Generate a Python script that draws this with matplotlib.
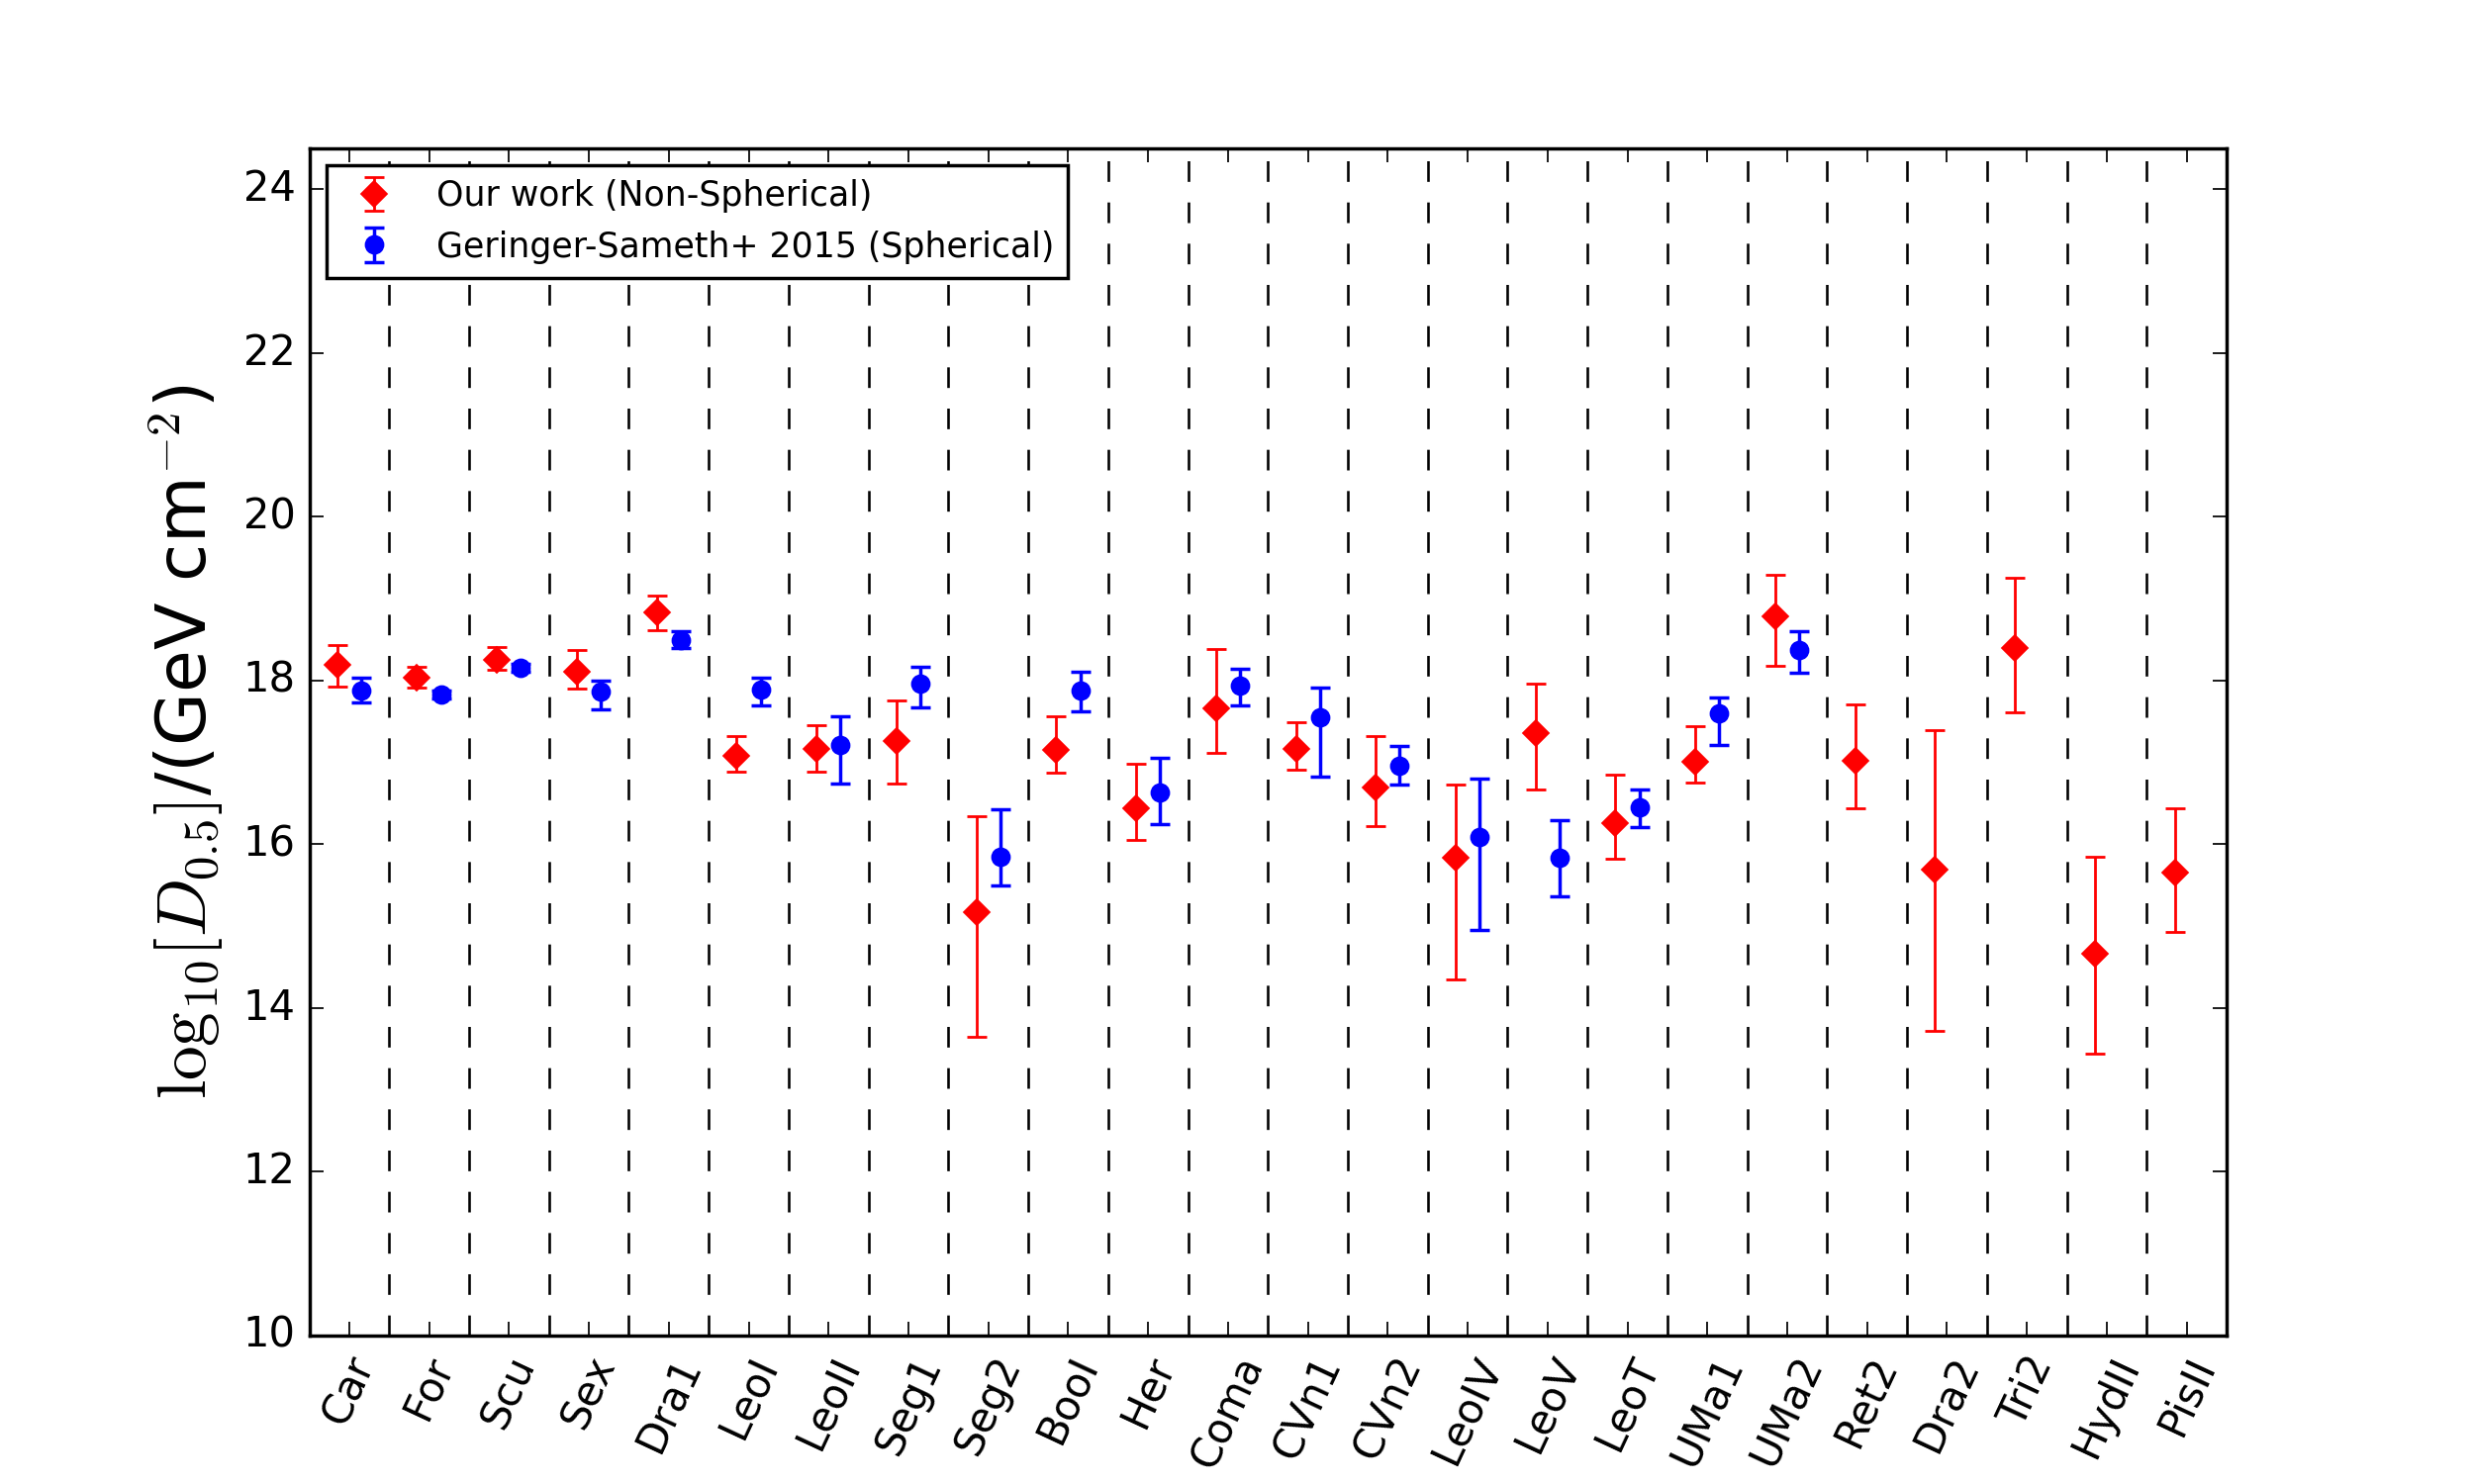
import matplotlib
matplotlib.use("Agg")
import matplotlib.pyplot as plt
import numpy as np

plt.style.use('classic')

names = ['Car', 'For', 'Scu', 'Sex', 'Dra1', 'LeoI', 'LeoII', 'Seg1', 'Seg2', 'BooI',
         'Her', 'Coma', 'CVn1', 'CVn2', 'LeoIV', 'LeoV', 'LeoT', 'UMa1', 'UMa2',
         'Ret2', 'Dra2', 'Tri2', 'HydII', 'PisII']

# Our work (non-spherical)
ours_val = [18.19, 18.03, 18.25, 18.11, 18.83, 17.08, 17.16, 17.26, 15.17, 17.15,
            16.44, 17.66, 17.17, 16.70, 15.84, 17.36, 16.26, 17.01, 18.78,
            17.02, 15.69, 18.40, 14.66, 15.65]
ours_up = [0.24, 0.14, 0.16, 0.26, 0.21, 0.24, 0.30, 0.50, 1.17, 0.41,
           0.55, 0.72, 0.32, 0.62, 0.89, 0.60, 0.59, 0.43, 0.51,
           0.69, 1.71, 0.86, 1.19, 0.79]
ours_lo = [0.26, 0.12, 0.12, 0.21, 0.22, 0.19, 0.27, 0.52, 1.52, 0.28,
           0.39, 0.54, 0.26, 0.48, 1.49, 0.69, 0.44, 0.26, 0.60,
           0.58, 1.97, 0.79, 1.22, 0.72]

# Geringer-Sameth+ 2015 (spherical), first 19 galaxies
gs_val = [17.88, 17.83, 18.16, 17.87, 18.50, 17.89, 17.21, 17.96, 15.85, 17.88,
          16.63, 17.94, 17.55, 16.96, 16.09, 15.84, 16.45, 17.60, 18.37]
gs_up = [0.16, 0.05, 0.05, 0.13, 0.10, 0.14, 0.36, 0.21, 0.58, 0.23,
         0.43, 0.20, 0.36, 0.24, 0.71, 0.45, 0.22, 0.19, 0.23]
gs_lo = [0.15, 0.05, 0.05, 0.22, 0.10, 0.19, 0.47, 0.29, 0.35, 0.25,
         0.38, 0.24, 0.72, 0.23, 1.13, 0.47, 0.24, 0.39, 0.27]

fig = plt.figure(figsize=(10, 6), dpi=250, facecolor='white')
ax = fig.add_subplot(111)

x = np.arange(len(names))
xg = np.arange(len(gs_val))

ax.errorbar(x - 0.15, ours_val, yerr=[ours_lo, ours_up], fmt='D', color='red',
            mec='red', ms=5.3, ecolor='red', elinewidth=0.8, capsize=3, capthick=0.8,
            label='Our work (Non-Spherical)')
ax.errorbar(xg + 0.15, gs_val, yerr=[gs_lo, gs_up], fmt='o', color='blue',
            mec='blue', ms=5.2, ecolor='blue', elinewidth=1.0, capsize=3, capthick=1.0,
            label='Geringer-Sameth+ 2015 (Spherical)')

for i in range(len(names) - 1):
    ax.axvline(i + 0.5, color='black', ls='--', lw=0.75, zorder=0)

ax.set_xlim(-0.5, len(names) - 0.5)
ax.set_ylim(10, 24.5)
ax.set_yticks(np.arange(10, 25, 2))
ax.set_xticks(x)
ax.set_xticklabels(names, rotation=65, fontsize=12)
ax.tick_params(axis='y', labelsize=12)
ax.set_ylabel(r'$\mathrm{log}_{10}[D_{0.5}]$/(GeV cm$^{-2}$)', fontsize=20)

leg = ax.legend(loc='upper left', numpoints=1, fontsize=10)
leg.get_frame().set_edgecolor('black')

fig.savefig('out.png', dpi=250, facecolor='white')
